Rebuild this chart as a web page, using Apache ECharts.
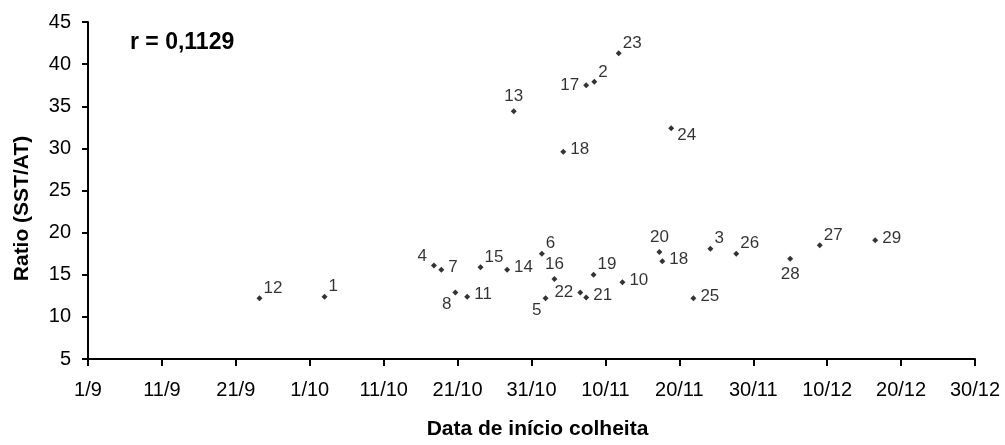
<!DOCTYPE html>
<html>
<head>
<meta charset="utf-8">
<script src="https://cdn.jsdelivr.net/npm/echarts@6/dist/echarts.min.js"></script>
<style>
html,body{margin:0;padding:0;background:#fff;}
#chart{width:1005px;height:445px;}
</style>
</head>
<body>
<div id="chart"></div>
<script>
// Tick labels of the x axis (one every 10 days starting at 1/9)
const xTickLabels = ['1/9','11/9','21/9','1/10','11/10','21/10','31/10','10/11','20/11','30/11','10/12','20/12','30/12'];
// Point identifiers (labels shown next to points)
const pointIds = ['12','1','4','7','8','11','15','14','13','6','5','16','18','22','17','21','2','19','23','10','20','18','24','25','3','26','28','27','29'];
// Start of harvest, in days after 1/9
const harvestDay = [23.2,32.0,46.8,47.8,49.7,51.3,53.1,56.7,57.6,61.4,61.9,63.1,64.3,66.6,67.4,67.4,68.5,68.4,71.8,72.3,77.3,77.7,78.9,81.9,84.2,87.7,95.0,99.0,106.5];
// Ratio SST/AT
const ratioValues = [12.2,12.4,16.1,15.6,12.9,12.4,15.9,15.6,34.4,17.5,12.2,14.5,29.6,12.9,37.5,12.3,37.9,15.0,41.3,14.1,17.7,16.6,32.4,12.2,18.1,17.5,16.9,18.5,19.1];
const corrText = 'r = 0,1129';

// label placement style per point (style only)
const labelSide = ['tr','tr','tl','r','bl','r','tr','r','t','tr','bl','t','r','l','l','r','tr','tr','tr','r','t','r','br','r','tr','tr','b','tr','r'];
const sideStyle = {
  tr:{position:'right',distance:1,offset:[0,-10]},
  r:{position:'right',distance:4,offset:[0,-2]},
  tl:{position:'left',distance:4,offset:[0,-9]},
  bl:{position:'left',distance:1,offset:[0,12]},
  t:{position:'top',distance:3},
  b:{position:'bottom',distance:4},
  l:{position:'left',distance:4},
  br:{position:'right',distance:3,offset:[0,7]}
};

const data = harvestDay.map((d,i)=>({
  value:[d, ratioValues[i]],
  name: pointIds[i],
  label: Object.assign({show:true, formatter:pointIds[i]}, sideStyle[labelSide[i]])
}));

const chart = echarts.init(document.getElementById('chart'), null, {renderer:'canvas'});
const font = '"Liberation Sans",Arial,sans-serif';
chart.setOption({
  backgroundColor:'#fff',
  animation:false,
  grid:{left:88,right:30,top:22,bottom:83,containLabel:false},
  xAxis:{
    type:'value', min:0, max:120, interval:10,
    name:'Data de início colheita', nameLocation:'middle', nameGap:60,
    nameTextStyle:{color:'#000',fontSize:21,fontWeight:'bold',fontFamily:font,padding:[0,0,0,12]},
    axisLine:{show:true,onZero:false,lineStyle:{color:'#000',width:2}},
    axisTick:{show:true,length:7,lineStyle:{color:'#000',width:2}},
    axisLabel:{color:'#000',fontSize:20,fontFamily:font,margin:21,
      formatter:(v)=>xTickLabels[Math.round(v/10)]},
    splitLine:{show:false}
  },
  yAxis:{
    type:'value', min:5, max:45, interval:5,
    name:'Ratio (SST/AT)', nameLocation:'middle', nameGap:55, nameRotate:90,
    nameTextStyle:{color:'#000',fontSize:21,fontWeight:'bold',fontFamily:font,padding:[0,0,0,-36]},
    axisLine:{show:true,onZero:false,lineStyle:{color:'#000',width:2}},
    axisTick:{show:true,length:6,lineStyle:{color:'#000',width:2}},
    axisLabel:{color:'#000',fontSize:20,fontFamily:font,margin:17},
    splitLine:{show:false}
  },
  graphic:[{type:'text',left:130,top:31,style:{text:corrText,fill:'#000',font:'bold 23px "Liberation Sans",Arial,sans-serif'}}],
  series:[{
    type:'scatter',
    symbol:'diamond',
    symbolSize:6,
    itemStyle:{color:'#000'},
    label:{color:'#000',fontSize:17,fontFamily:font},
    data:data
  }]
});
</script>
</body>
</html>
